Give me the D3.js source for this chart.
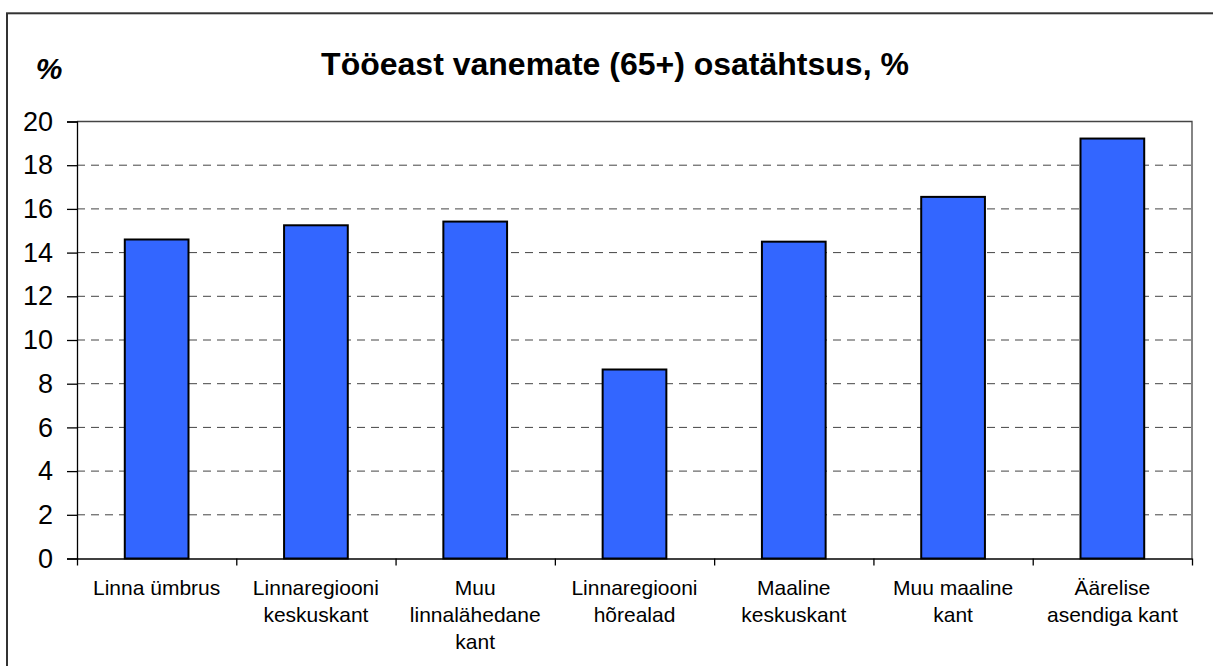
<!DOCTYPE html>
<html>
<head>
<meta charset="utf-8">
<script src="https://cdn.jsdelivr.net/npm/d3@7"></script>
<style>
  body { margin: 0; background: #fff; }
  text { font-family: Arial, "Liberation Sans", sans-serif; }
</style>
</head>
<body>
<div id="chart"></div>
<script>
// Data
var categories = [
    ["Linna ümbrus"],
    ["Linnaregiooni", "keskuskant"],
    ["Muu", "linnalähedane", "kant"],
    ["Linnaregiooni", "hõrealad"],
    ["Maaline", "keskuskant"],
    ["Muu maaline", "kant"],
    ["Äärelise", "asendiga kant"]
];
var values = [14.6, 15.25, 15.42, 8.65, 14.5, 16.55, 19.22];
var yTicks = [0, 2, 4, 6, 8, 10, 12, 14, 16, 18, 20];
var title = "Tööeast vanemate (65+) osatähtsus, %";

var svgWidth = 1213;
var svgHeight = 666;

// plot area
var margin = { top: 121.5, right: 21, bottom: 107.5, left: 77 };
var width = svgWidth - margin.left - margin.right;
var height = svgHeight - margin.top - margin.bottom;

var svg = d3.select("#chart")
    .append("svg")
    .attr("width", svgWidth)
    .attr("height", svgHeight);

// outer frame (runs off the right/bottom edge)
svg.append("rect")
    .attr("x", 7)
    .attr("y", 13.3)
    .attr("width", 1300)
    .attr("height", 800)
    .attr("fill", "none")
    .attr("stroke", "#333")
    .attr("stroke-width", 2);

svg.append("text")
    .attr("x", 49)
    .attr("y", 79)
    .attr("text-anchor", "middle")
    .attr("font-size", 30)
    .attr("font-weight", "bold")
    .attr("font-style", "italic")
    .text("%");

svg.append("text")
    .attr("x", 615)
    .attr("y", 74.5)
    .attr("text-anchor", "middle")
    .attr("font-size", 32)
    .attr("font-weight", "bold")
    .text(title);

var chartGroup = svg.append("g")
    .attr("transform", `translate(${margin.left}, ${margin.top})`);

var xScale = d3.scaleBand()
    .domain(d3.range(values.length))
    .range([0, width])
    .paddingInner(0.6)
    .paddingOuter(0.3);

var yScale = d3.scaleLinear()
    .domain([0, 20])
    .range([height, 0]);

// dashed gridlines
chartGroup.selectAll(".grid")
    .data(yTicks.filter(d => d > 0 && d < 20))
    .enter()
    .append("line")
    .attr("class", "grid")
    .attr("x1", 0)
    .attr("x2", width)
    .attr("y1", d => yScale(d))
    .attr("y2", d => yScale(d))
    .attr("stroke", "#444")
    .attr("stroke-width", 1)
    .attr("stroke-dasharray", "8,6");

// top and right border of the plot
chartGroup.append("path")
    .attr("d", `M0,${yScale(20)}H${width}V${height}`)
    .attr("fill", "none")
    .attr("stroke", "#444")
    .attr("stroke-width", 1.3);

// bars
chartGroup.selectAll(".bar")
    .data(values)
    .enter()
    .append("rect")
    .attr("class", "bar")
    .attr("x", (d, i) => xScale(i))
    .attr("width", xScale.bandwidth())
    .attr("y", d => yScale(d))
    .attr("height", d => height - yScale(d))
    .attr("fill", "#3366ff")
    .attr("stroke", "#000")
    .attr("stroke-width", 2);

// left axis
var leftAxis = d3.axisLeft(yScale)
    .tickValues(yTicks)
    .tickSize(10)
    .tickPadding(14);

var yAxisG = chartGroup.append("g").call(leftAxis);
yAxisG.select(".domain").attr("stroke", "#000").attr("stroke-width", 1.3);
yAxisG.selectAll(".tick line").attr("stroke", "#000").attr("stroke-width", 1.3);
yAxisG.selectAll(".tick text")
    .attr("font-size", 27)
    .attr("font-family", "Arial, 'Liberation Sans', sans-serif")
    .attr("fill", "#000");

// bottom axis with ticks at category boundaries
var boundScale = d3.scaleLinear()
    .domain([0, values.length])
    .range([0, width]);

var bottomAxis = d3.axisBottom(boundScale)
    .tickValues(d3.range(values.length + 1))
    .tickSize(7)
    .tickSizeOuter(0)
    .tickFormat("");

var xAxisG = chartGroup.append("g")
    .attr("transform", `translate(0, ${height})`)
    .call(bottomAxis);
xAxisG.select(".domain").attr("stroke", "#000").attr("stroke-width", 1.5);
xAxisG.selectAll(".tick line").attr("stroke", "#000").attr("stroke-width", 1.3);

// category labels
var labels = chartGroup.selectAll(".xlabel")
    .data(categories)
    .enter()
    .append("text")
    .attr("class", "xlabel")
    .attr("text-anchor", "middle")
    .attr("font-size", 21)
    .attr("fill", "#000");

labels.selectAll("tspan")
    .data((d, i) => d.map(line => ({ line: line, i: i })))
    .enter()
    .append("tspan")
    .attr("x", d => xScale(d.i) + xScale.bandwidth() / 2)
    .attr("y", (d, j) => height + 36.5 + j * 27)
    .text(d => d.line);
</script>
</body>
</html>
